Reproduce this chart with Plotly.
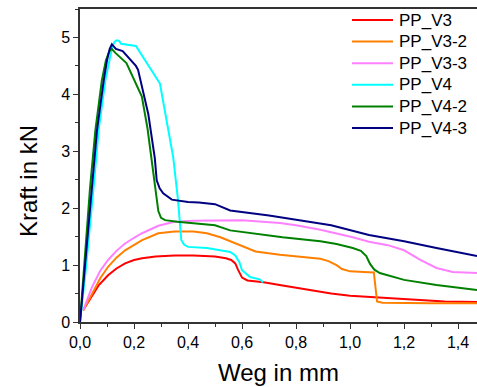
import plotly.graph_objects as go

# Force-displacement curves (Weg in mm, Kraft in kN)
v3_x = [0.012, 0.044, 0.07, 0.104, 0.135, 0.167, 0.2, 0.23, 0.28, 0.35, 0.42, 0.5, 0.54,
        0.56, 0.575, 0.585, 0.6, 0.62, 0.68, 0.75, 0.85, 0.93, 1.0, 1.07, 1.2, 1.35, 1.47]
v3_y = [0.21, 0.44, 0.65, 0.82, 0.94, 1.03, 1.09, 1.12, 1.15, 1.17, 1.17, 1.15, 1.12,
        1.09, 1.03, 0.92, 0.78, 0.73, 0.70, 0.64, 0.56, 0.50, 0.46, 0.44, 0.39, 0.36, 0.35]

v3_2_x = [0.012, 0.044, 0.075, 0.104, 0.135, 0.167, 0.2, 0.23, 0.29, 0.35, 0.42, 0.47, 0.52,
          0.556, 0.6, 0.65, 0.74, 0.84, 0.89, 0.92, 0.95, 0.97, 1.0, 1.05, 1.088, 1.10, 1.12,
          1.3, 1.47]
v3_2_y = [0.2, 0.5, 0.77, 0.97, 1.13, 1.26, 1.36, 1.44, 1.56, 1.59, 1.59, 1.56, 1.49,
          1.42, 1.33, 1.24, 1.18, 1.14, 1.11, 1.07, 1.0, 0.93, 0.89, 0.88, 0.87, 0.36, 0.34,
          0.33, 0.33]

v3_3_x = [0.012, 0.044, 0.075, 0.104, 0.135, 0.167, 0.2, 0.23, 0.29, 0.35, 0.42, 0.5, 0.6,
          0.74, 0.8, 0.89, 0.95, 1.01, 1.07, 1.14, 1.2, 1.26, 1.32, 1.38, 1.47]
v3_3_y = [0.21, 0.61, 0.9, 1.09, 1.25, 1.38, 1.48, 1.56, 1.69, 1.76, 1.78, 1.79, 1.79,
          1.74, 1.70, 1.62, 1.56, 1.49, 1.41, 1.35, 1.26, 1.09, 0.95, 0.88, 0.86]

v4_x = [0.0, 0.02, 0.051, 0.069, 0.094, 0.108, 0.12, 0.128, 0.136, 0.145, 0.152, 0.207, 0.296,
        0.345, 0.363, 0.375, 0.385, 0.40, 0.47, 0.556, 0.575, 0.59, 0.60, 0.63, 0.655, 0.665,
        0.678]
v4_y = [0.0, 0.85, 2.4, 3.37, 4.25, 4.6, 4.85, 4.92, 4.95, 4.94, 4.89, 4.85, 4.19,
        2.9, 2.14, 1.44, 1.36, 1.32, 1.30, 1.23, 1.17, 1.05, 0.91, 0.79, 0.77, 0.75, 0.70]

v4_2_x = [0.0, 0.037, 0.057, 0.081, 0.096, 0.108, 0.117, 0.133, 0.172, 0.207, 0.229, 0.25,
          0.27, 0.28, 0.29, 0.30, 0.315, 0.36, 0.5, 0.556, 0.65, 0.75, 0.89, 0.95, 1.01, 1.04,
          1.06, 1.074, 1.09, 1.11, 1.2, 1.32, 1.47]
v4_2_y = [0.0, 2.35, 3.37, 4.25, 4.6, 4.75, 4.8, 4.72, 4.55, 4.19, 3.96, 3.4,
          2.72, 2.3, 1.95, 1.83, 1.79, 1.76, 1.70, 1.61, 1.55, 1.49, 1.42, 1.37, 1.30, 1.25,
          1.16, 1.02, 0.92, 0.86, 0.74, 0.65, 0.56]

v4_3_x = [0.0, 0.046, 0.063, 0.088, 0.1, 0.11, 0.118, 0.133, 0.158, 0.207, 0.215, 0.253,
          0.277, 0.284, 0.295, 0.308, 0.34, 0.40, 0.44, 0.5, 0.556, 0.7, 0.89, 0.93, 1.07,
          1.2, 1.32, 1.47]
v4_3_y = [0.0, 2.4, 3.37, 4.25, 4.6, 4.8, 4.88, 4.8, 4.76, 4.5, 4.43, 3.65,
          2.88, 2.49, 2.35, 2.26, 2.15, 2.11, 2.10, 2.07, 1.96, 1.87, 1.74, 1.70, 1.53,
          1.42, 1.30, 1.16]

series_names = ["PP_V3", "PP_V3-2", "PP_V3-3", "PP_V4", "PP_V4-2", "PP_V4-3"]
series_x = [v3_x, v3_2_x, v3_3_x, v4_x, v4_2_x, v4_3_x]
series_y = [v3_y, v3_2_y, v3_3_y, v4_y, v4_2_y, v4_3_y]
series_colors = ["#ff0000", "#ff8000", "#ff80ff", "#00ffff", "#008000", "#000080"]

x_ticks = [0.0, 0.2, 0.4, 0.6, 0.8, 1.0, 1.2, 1.4]
x_tick_labels = ["0,0", "0,2", "0,4", "0,6", "0,8", "1,0", "1,2", "1,4"]
y_ticks = [0, 1, 2, 3, 4, 5]

W, H = 477, 387
M_L, M_R, M_T, M_B = 80, 0, 9, 65
PLOT_W = W - M_L - M_R
PLOT_H = H - M_T - M_B


def px_to_paper_x(px):
    return (px - M_L) / PLOT_W


def px_to_paper_y(py):
    return (H - M_B - py) / PLOT_H


fig = go.Figure()
for name, xs, ys, color in zip(series_names, series_x, series_y, series_colors):
    fig.add_trace(go.Scatter(x=xs, y=ys, mode="lines", name=name,
                             line=dict(color=color, width=2)))

font_family = "Liberation Sans, Arial, sans-serif"

# compact legend block in the upper right corner
LEG_LINE_X0, LEG_LINE_X1, LEG_TEXT_X = 352, 393, 397
LEG_ROW0, LEG_ROW_STEP = 20, 21.6
shapes, annotations = [], []
for i, (name, color) in enumerate(zip(series_names, series_colors)):
    yy = px_to_paper_y(LEG_ROW0 + i * LEG_ROW_STEP)
    shapes.append(dict(type="line", xref="paper", yref="paper",
                       x0=px_to_paper_x(LEG_LINE_X0), x1=px_to_paper_x(LEG_LINE_X1),
                       y0=yy, y1=yy, line=dict(color=color, width=2)))
    annotations.append(dict(xref="paper", yref="paper", x=px_to_paper_x(LEG_TEXT_X), y=yy,
                            xanchor="left", yanchor="middle", text=name, showarrow=False,
                            font=dict(size=17, color="black", family=font_family)))

# y axis title, placed slightly below the axis centre
annotations.append(dict(xref="paper", yref="paper", x=px_to_paper_x(28), y=px_to_paper_y(181),
                        xanchor="center", yanchor="middle", text="Kraft in kN",
                        textangle=-90, showarrow=False,
                        font=dict(size=24, color="black", family=font_family)))

fig.update_layout(
    width=W, height=H,
    margin=dict(l=M_L, r=M_R, t=M_T, b=M_B),
    plot_bgcolor="white", paper_bgcolor="white",
    font=dict(family=font_family, color="black", size=16),
    showlegend=False,
    shapes=shapes,
    annotations=annotations,
    xaxis=dict(
        range=[0, 1.47], tickmode="array", tickvals=x_ticks, ticktext=x_tick_labels,
        showgrid=False, zeroline=False, showline=True, linecolor="#333333", linewidth=1.5,
        mirror=True, ticks="outside", ticklen=5, tickwidth=1.2, tickcolor="#333333",
        minor=dict(ticks="outside", ticklen=3, dtick=0.1, tick0=0, tickcolor="#333333"),
        tickfont=dict(size=16),
        title=dict(text="Weg in mm", font=dict(size=24), standoff=14),
    ),
    yaxis=dict(
        range=[0, 5.5], tickmode="array", tickvals=y_ticks,
        showgrid=False, zeroline=False, showline=True, linecolor="#333333", linewidth=1.5,
        ticks="outside", ticklen=5, tickwidth=1.2, tickcolor="#333333",
        minor=dict(ticks="outside", ticklen=3, dtick=0.5, tick0=0, tickcolor="#333333"),
        tickfont=dict(size=16),
    ),
)

fig.write_html("out.html")
